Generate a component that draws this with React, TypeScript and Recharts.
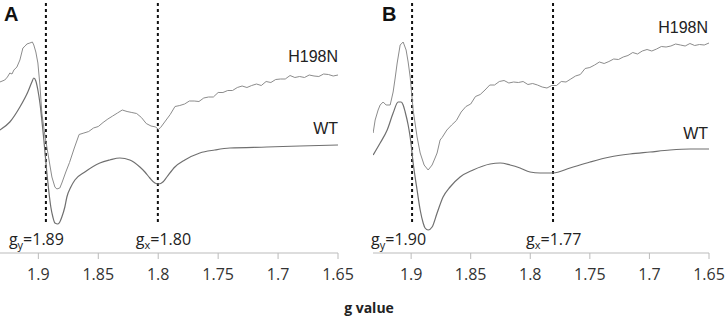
import React from 'react';
import { LineChart, Line, XAxis, YAxis, ReferenceLine } from 'recharts';

// g-value axis
const G_TICKS = [1.9, 1.85, 1.8, 1.75, 1.7, 1.65];
const G_DOMAIN: [number, number] = [1.65, 1.932];
const SERIES_NAMES = ['H198N', 'WT'];
const PANEL_NAMES = ['A', 'B'];
const AXIS_TITLE = 'g value';

// dashed marker positions (g) and their printed values
const MARK_G_A = [1.8937, 1.8003];
const MARK_TEXT_A = ['1.89', '1.80'];
const MARK_G_B = [1.8992, 1.7809];
const MARK_TEXT_B = ['1.90', '1.77'];
const MARK_SUB = ['y', 'x'];

// spectra: [g, intensity (a.u.)]
const H198N_A: [number, number][] = [
  [1.9321, 171], [1.928, 173], [1.9258, 176], [1.9238, 180], [1.922, 179], [1.9204, 183],
  [1.9179, 186], [1.9154, 193], [1.9129, 205], [1.911, 207], [1.9096, 209], [1.9071, 210],
  [1.905, 211], [1.9038, 208], [1.9021, 201], [1.9004, 190], [1.8987, 168], [1.8971, 140],
  [1.8946, 118], [1.8929, 106], [1.8904, 88], [1.8887, 76], [1.8862, 66], [1.8846, 64],
  [1.8821, 65], [1.8804, 70], [1.8771, 81], [1.874, 90.5], [1.87, 105], [1.866, 118.5],
  [1.862, 120], [1.858, 121.5], [1.854, 125], [1.85, 126.5], [1.846, 130.5], [1.842, 134],
  [1.838, 137], [1.834, 140], [1.83, 143], [1.826, 141.5], [1.822, 140.5], [1.818, 139.5],
  [1.814, 135.5], [1.81, 129.5], [1.806, 127], [1.802, 126], [1.8, 123.5], [1.798, 125.5],
  [1.794, 132], [1.79, 138.5], [1.786, 146.5], [1.782, 147.5], [1.778, 149], [1.774, 152],
  [1.77, 152], [1.766, 151.5], [1.762, 155], [1.758, 156], [1.754, 156], [1.75, 160.5],
  [1.746, 160.5], [1.742, 162.5], [1.738, 162.5], [1.734, 165.5], [1.73, 167], [1.726, 165.5],
  [1.722, 167.5], [1.718, 169], [1.714, 167.5], [1.71, 171.5], [1.706, 170.5], [1.702, 173.5],
  [1.698, 174], [1.694, 174], [1.69, 177.5], [1.686, 175.5], [1.682, 176.5], [1.678, 175.5],
  [1.674, 178], [1.67, 177], [1.666, 176.5], [1.662, 179], [1.658, 178.5], [1.654, 177], [1.65, 178],
];

const WT_A: [number, number][] = [
  [1.9321, 123], [1.9238, 131], [1.9154, 146], [1.9088, 161], [1.9054, 171], [1.9038, 175],
  [1.9021, 172], [1.9004, 163], [1.8987, 150], [1.8971, 133], [1.8954, 113], [1.8929, 80],
  [1.8912, 61], [1.8896, 46], [1.8879, 36], [1.8862, 30], [1.8837, 29], [1.8821, 31],
  [1.8804, 36], [1.8779, 46], [1.8762, 56], [1.8729, 66], [1.8695, 73], [1.8612, 81],
  [1.8487, 90], [1.8404, 93], [1.832, 95], [1.8237, 93], [1.8153, 86], [1.8111, 81],
  [1.807, 75], [1.8028, 70], [1.7995, 69], [1.7961, 71], [1.7928, 76], [1.7861, 86],
  [1.7778, 93], [1.7653, 100], [1.7528, 103], [1.7402, 105], [1.7094, 106], [1.6818, 107],
  [1.65, 108],
];

const H198N_B: [number, number][] = [
  [1.9319, 120], [1.9302, 133], [1.9277, 143], [1.926, 148], [1.9235, 151], [1.921, 148],
  [1.9176, 148], [1.9151, 161], [1.9134, 175], [1.9117, 190], [1.9092, 208], [1.9067, 211],
  [1.9042, 203], [1.9025, 191], [1.9008, 176], [1.8983, 143], [1.895, 116], [1.8924, 100],
  [1.8891, 88], [1.8857, 83], [1.8824, 88], [1.8799, 95], [1.8782, 100], [1.8757, 113],
  [1.874, 115.5], [1.87, 123], [1.866, 128], [1.862, 132.5], [1.858, 141], [1.854, 146.5],
  [1.85, 149], [1.846, 156.5], [1.842, 158.5], [1.838, 163], [1.834, 168], [1.83, 168],
  [1.826, 171.5], [1.822, 172.5], [1.818, 170], [1.814, 171], [1.81, 170.5], [1.806, 171.5],
  [1.802, 168.5], [1.798, 169.5], [1.794, 168], [1.79, 166], [1.786, 165], [1.782, 167.5],
  [1.778, 167.5], [1.774, 171.5], [1.77, 171], [1.766, 174], [1.762, 177], [1.758, 178.5],
  [1.754, 184.5], [1.75, 185.5], [1.746, 188], [1.742, 191], [1.738, 189.5], [1.734, 191.5],
  [1.73, 194], [1.726, 193.5], [1.722, 196], [1.718, 197.5], [1.714, 200.5], [1.71, 199],
  [1.706, 202], [1.702, 203.5], [1.698, 202], [1.694, 204], [1.69, 206.5], [1.686, 206],
  [1.682, 207], [1.678, 209], [1.674, 208], [1.67, 207], [1.666, 209.5], [1.662, 207.5],
  [1.658, 208.5], [1.654, 208], [1.65, 210],
];

const WT_B: [number, number][] = [
  [1.9319, 98], [1.926, 110], [1.9201, 123], [1.9151, 140], [1.9109, 151], [1.9084, 151],
  [1.9067, 148], [1.905, 141], [1.9025, 128], [1.9008, 116], [1.8983, 90], [1.895, 63],
  [1.8924, 43], [1.8899, 30], [1.8883, 25], [1.8857, 23], [1.8824, 26], [1.8782, 40],
  [1.8732, 56], [1.8673, 66], [1.8589, 76], [1.848, 83], [1.8337, 89], [1.8253, 90],
  [1.8169, 88], [1.8086, 85], [1.8002, 81], [1.7918, 80], [1.7809, 80], [1.7666, 85],
  [1.7498, 91], [1.7331, 96], [1.7163, 99], [1.6995, 101], [1.6827, 103], [1.6659, 104],
  [1.65, 104],
];

const Y_DOMAIN: [number, number] = [0, 253];
const MARK_Y: [number, number] = [31, 253];

const toRows = (arr: [number, number][]) => arr.map(([g, v]) => ({ g, v }));

const FONT_TICK = '"Open Sans", "Noto Sans", sans-serif';
const FONT_ARIAL = '"Liberation Sans", Arial, sans-serif';

const GLabel = (props: any) => {
  const { viewBox, sub, val, dx } = props;
  const x = (viewBox?.x ?? 0) + dx;
  return (
    <text x={x} y={245} fontFamily={FONT_TICK} fontSize={16} fill="#222">
      <tspan>g</tspan>
      <tspan fontSize={11} dy={4}>{sub}</tspan>
      <tspan dy={-4}>={val}</tspan>
    </text>
  );
};

type PanelProps = {
  left: number;
  margin: { top: number; right: number; bottom: number; left: number };
  h198n: [number, number][];
  wt: [number, number][];
  marks: number[];
  markTexts: string[];
  markDx: number[];
};

const Panel = ({ left, margin, h198n, wt, marks, markTexts, markDx }: PanelProps) => (
  <div style={{ position: 'absolute', left, top: 0 }}>
    <LineChart width={363} height={319} margin={margin}>
      <XAxis
        type="number"
        dataKey="g"
        domain={G_DOMAIN}
        reversed
        allowDataOverflow
        ticks={G_TICKS}
        tickFormatter={(v: number) => String(v)}
        height={40}
        tickSize={6}
        tickMargin={10}
        stroke="#bbbbbb"
        tickLine={{ stroke: '#bbbbbb' }}
        tick={{ fontSize: 16, fontFamily: FONT_TICK, fill: '#333' }}
        interval={0}
      />
      <YAxis type="number" domain={Y_DOMAIN} hide allowDataOverflow />
      {marks.map((g, i) => (
        <ReferenceLine
          key={i}
          segment={[{ x: g, y: MARK_Y[0] }, { x: g, y: MARK_Y[1] }]}
          stroke="#111"
          strokeWidth={2}
          strokeDasharray="3 3"
          ifOverflow="visible"
          label={(p: any) => <GLabel viewBox={p.viewBox} sub={MARK_SUB[i]} val={markTexts[i]} dx={markDx[i]} />}
        />
      ))}
      <Line
        data={toRows(h198n)}
        dataKey="v"
        type="linear"
        stroke="#8c8c8c"
        strokeWidth={1}
        dot={false}
        isAnimationActive={false}
      />
      <Line
        data={toRows(wt)}
        dataKey="v"
        type="monotone"
        stroke="#6f6f6f"
        strokeWidth={1.2}
        dot={false}
        isAnimationActive={false}
      />
    </LineChart>
  </div>
);

export default function App() {
  return (
    <div style={{ position: 'absolute', left: 0, top: 0, width: 726, height: 319, background: '#fff', overflow: 'hidden' }}>
      <Panel
        left={0}
        margin={{ top: 0, right: 25, bottom: 26, left: 0 }}
        h198n={H198N_A}
        wt={WT_A}
        marks={MARK_G_A}
        markTexts={MARK_TEXT_A}
        markDx={[-37, -22]}
      />
      <Panel
        left={363}
        margin={{ top: 0, right: 17, bottom: 26, left: 10 }}
        h198n={H198N_B}
        wt={WT_B}
        marks={MARK_G_B}
        markTexts={MARK_TEXT_B}
        markDx={[-41, -27]}
      />
      <svg width={726} height={319} style={{ position: 'absolute', left: 0, top: 0, pointerEvents: 'none' }}>
        <text x={4} y={21} fontFamily={FONT_ARIAL} fontWeight="bold" fontSize={20} fill="#111">{PANEL_NAMES[0]}</text>
        <text x={382} y={21} fontFamily={FONT_ARIAL} fontWeight="bold" fontSize={20} fill="#111">{PANEL_NAMES[1]}</text>
        <text x={338} y={62} textAnchor="end" fontFamily={FONT_ARIAL} fontSize={16} fill="#222">{SERIES_NAMES[0]}</text>
        <text x={338} y={134} textAnchor="end" fontFamily={FONT_ARIAL} fontSize={16} fill="#222">{SERIES_NAMES[1]}</text>
        <text x={708} y={33} textAnchor="end" fontFamily={FONT_ARIAL} fontSize={16} fill="#222">{SERIES_NAMES[0]}</text>
        <text x={708} y={139} textAnchor="end" fontFamily={FONT_ARIAL} fontSize={16} fill="#222">{SERIES_NAMES[1]}</text>
        <text x={369} y={313} textAnchor="middle" fontFamily={FONT_TICK} fontWeight="bold" fontSize={14} fill="#222">{AXIS_TITLE}</text>
      </svg>
    </div>
  );
}
